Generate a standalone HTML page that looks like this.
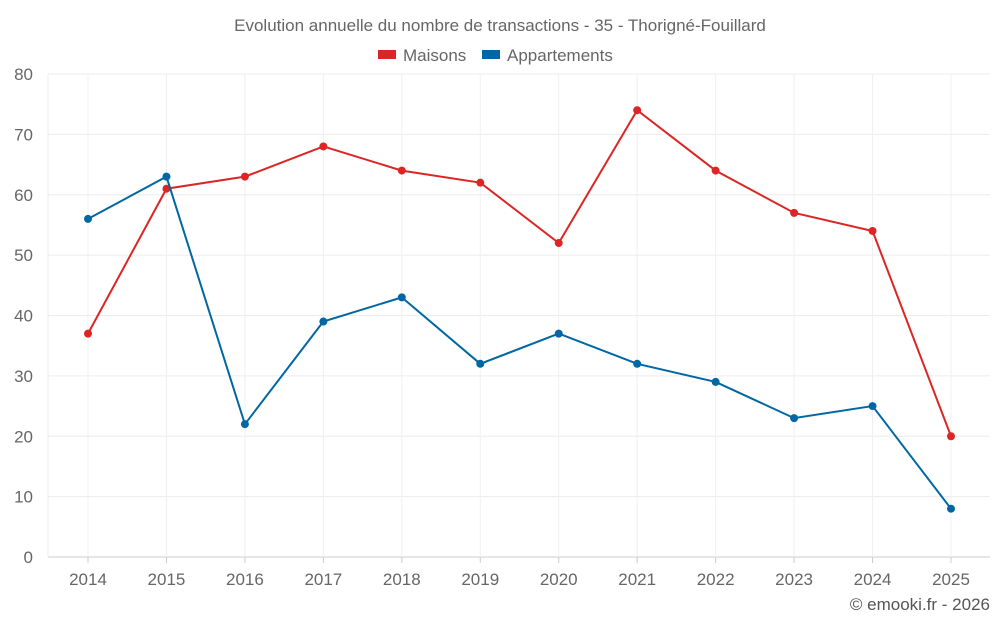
<!DOCTYPE html>
<html><head><meta charset="utf-8"><style>
body{margin:0;background:#fff;font-family:"Liberation Sans",sans-serif}
svg text{font-family:"Liberation Sans",sans-serif}
</style></head><body>
<svg id="c" width="1000" height="625"></svg>
<script>
const years=["2014","2015","2016","2017","2018","2019","2020","2021","2022","2023","2024","2025"];
const maisons=[37,61,63,68,64,62,52,74,64,57,54,20];
const appartements=[56,63,22,39,43,32,37,32,29,23,25,8];
const yTicks=[0,10,20,30,40,50,60,70,80];
const svg=document.getElementById('c');
const NS='http://www.w3.org/2000/svg';
const L=48,R=990,T=74,B=557,step=(951-88)/11;
const x=i=>88+i*step, y=v=>B-(v/80)*(B-T);
function mk(tag,attrs,parent){const e=document.createElementNS(NS,tag);for(const k in attrs)e.setAttribute(k,attrs[k]);(parent||svg).appendChild(e);return e;}
const title=mk('text',{x:500,y:31,'text-anchor':'middle','font-size':17,fill:'#666'});
title.textContent='Evolution annuelle du nombre de transactions - 35 - Thorigné-Fouillard';


// legend
const leg=[['Maisons','#dc2626',378,403],['Appartements','#0067a3',482,507]];
leg.forEach(([n,c,rx,tx])=>{
 const g=mk('g',{});
 
 
 mk('rect',{x:rx,y:50,width:18,height:9,fill:c},g);
 const t=mk('text',{x:tx,y:61,'font-size':17,fill:'#666'},g);t.textContent=n;
});
// grid
yTicks.forEach(v=>{
 const ln=mk('line',{x1:L,x2:R,y1:y(v),y2:y(v),stroke:v===0?'#ccc':'#ececec'});
 
 
 const t=mk('text',{x:33,y:y(v)+6,'text-anchor':'end','font-size':17,fill:'#666'});
 t.textContent=v;
 
 
});
years.forEach((yr,i)=>{
 const ln=mk('line',{x1:x(i),x2:x(i),y1:T,y2:B,stroke:'#f0f0f0'});
 
 
 mk('line',{x1:x(i),x2:x(i),y1:B,y2:B+6,stroke:'#ccc'});
 const t=mk('text',{x:x(i),y:585,'text-anchor':'middle','font-size':17,fill:'#666'});
 t.textContent=yr;
 
 
});
mk('line',{x1:L,x2:L,y1:T,y2:B,stroke:'#ececec'});
function series(data,color,name){
 const p=mk('polyline',{points:data.map((v,i)=>x(i)+','+y(v)).join(' '),fill:'none',stroke:color,'stroke-width':2});
 
 
 data.forEach((v,i)=>{
  const c=mk('circle',{cx:x(i),cy:y(v),r:4,fill:color});
  
  
 });
}
series(maisons,'#dc2626','maisons');
series(appartements,'#0067a3','appartements');
const cr=mk('text',{x:990,y:610,'text-anchor':'end','font-size':17,fill:'#555'});
cr.textContent='© emooki.fr - 2026';


</script>
</body></html>
